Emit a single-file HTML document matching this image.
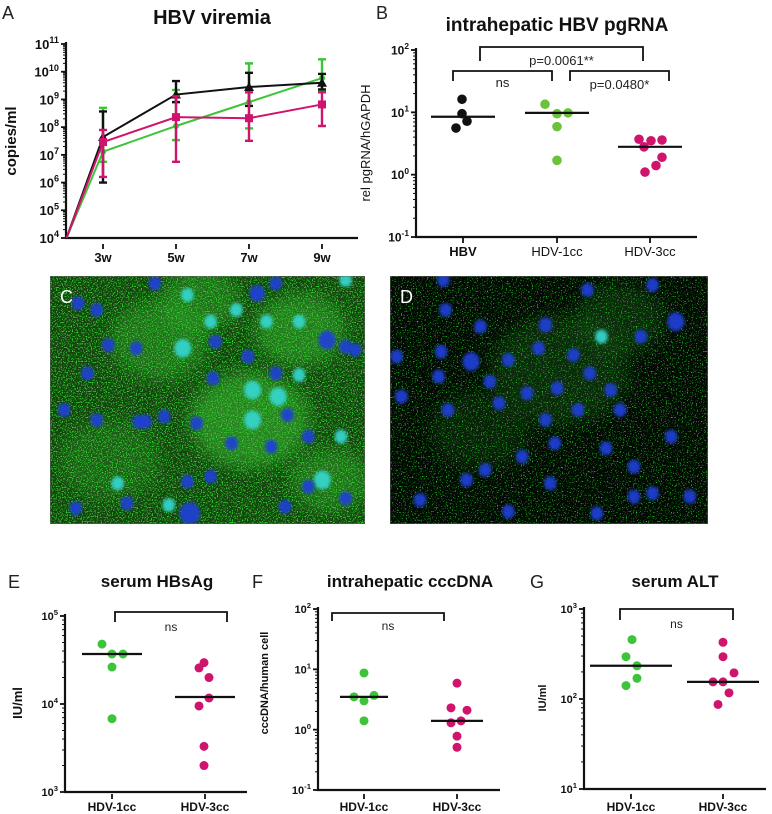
<!DOCTYPE html>
<html><head><meta charset="utf-8"><style>
html,body{margin:0;padding:0;background:#fff;}
svg{display:block;font-family:"Liberation Sans",Arial,sans-serif;}
</style></head><body>
<svg id="fig" width="772" height="814" viewBox="0 0 772 814" xmlns="http://www.w3.org/2000/svg">
<defs>
<filter id="spkC" x="0" y="0" width="100%" height="100%" color-interpolation-filters="sRGB"><feTurbulence type="fractalNoise" baseFrequency="0.8" numOctaves="1" seed="4"/><feColorMatrix type="matrix" values="0 0 0 0 0.2  0 0 0 0 0.85  0 0 0 0 0.2  0 7 0 0 -3.7"/></filter>
<filter id="spkD" x="0" y="0" width="100%" height="100%" color-interpolation-filters="sRGB"><feTurbulence type="fractalNoise" baseFrequency="0.8" numOctaves="1" seed="7"/><feColorMatrix type="matrix" values="0 0 0 0 0.15  0 0 0 0 0.8  0 0 0 0 0.15  0 9 0 0 -5.4"/></filter>
<filter id="blr" color-interpolation-filters="sRGB"><feGaussianBlur stdDeviation="1.6"/></filter>
<filter id="glow" color-interpolation-filters="sRGB"><feGaussianBlur stdDeviation="8"/></filter>
<clipPath id="clipC"><rect x="50" y="276" width="315" height="248"/></clipPath>
<clipPath id="clipD"><rect x="390" y="276" width="318" height="248"/></clipPath>
</defs>
</svg>
<script>
// ---------- Panel A data ----------
const aWeeks=[2,3,5,7,9];
const aTickWeeks=[3,5,7,9];
const aTickLabels=["3w","5w","7w","9w"];
const aBlack=[1e4,4.4e7,1.5e9,2.8e9,4.0e9];
const aBlackHi=[null,3.7e8,4.6e9,9.1e9,8.3e9];
const aBlackLo=[null,1e6,8e8,5.8e8,2.3e9];
const aGreen=[1e4,1.3e7,1.1e8,8e8,5.9e9];
const aGreenHi=[null,5e8,2.2e9,2e10,2.8e10];
const aGreenLo=[null,5.6e6,3.4e7,9e7,2e9];
const aMag=[1e4,2.9e7,2.3e8,2.1e8,6.6e8];
const aMagHi=[null,7.9e7,1.3e9,1.8e9,1.8e9];
const aMagLo=[null,1.6e6,5.6e6,3.2e7,1.1e8];
// ---------- Panel B data ----------
const bCats=["HBV","HDV-1cc","HDV-3cc"];
const bHBV=[16.2,9.5,7.2,5.6];
const bHDV1=[13.5,9.5,9.8,5.9,1.7];
const bHDV3=[3.7,3.5,3.6,2.8,1.9,1.4,1.1];
const bMedians=[8.5,9.8,2.8];
// ---------- Panel E data ----------
const eCats=["HDV-1cc","HDV-3cc"];
const eHDV1=[47900,37000,37000,26300,6800];
const eHDV3=[29500,25700,20000,11700,9500,3300,2000];
const eMedians=[37000,12000];
// ---------- Panel F data ----------
const fCats=["HDV-1cc","HDV-3cc"];
const fHDV1=[8.7,3.5,3.7,3.0,1.4];
const fHDV3=[5.9,2.3,2.1,1.3,1.4,0.78,0.51];
const fMedians=[3.5,1.4];
// ---------- Panel G data ----------
const gCats=["HDV-1cc","HDV-3cc"];
const gHDV1=[457,295,234,170,141];
const gHDV3=[427,295,195,155,155,117,87];
const gMedians=[234,155];

const NS="http://www.w3.org/2000/svg";
const svg=document.getElementById('fig');
const GREEN="#3ec43a", MAG="#d0146e";
function mk(tag,attrs,parent){const e=document.createElementNS(NS,tag);for(const k in attrs)e.setAttribute(k,attrs[k]);(parent||svg).appendChild(e);return e;}
function txt(x,y,s,attrs,parent){const e=mk('text',Object.assign({x:x,y:y},attrs),parent);e.textContent=s;return e;}
function logScale(vTop,yTop,vBot,yBot){const a=Math.log10(vTop),b=Math.log10(vBot);return v=>yTop+(a-Math.log10(v))/(a-b)*(yBot-yTop);}
function powLabel(x,y,exp,size,bold,parent){
  const t=mk('text',{x:x,y:y,'text-anchor':'end','font-size':size,'font-weight':bold?'bold':'normal',fill:'#111'},parent);
  
  
  const s1=document.createElementNS(NS,'tspan');s1.textContent='10';t.appendChild(s1);
  const s2=document.createElementNS(NS,'tspan');s2.setAttribute('dy',-size*0.45);s2.setAttribute('font-size',size*0.7);s2.textContent=String(exp);t.appendChild(s2);
}
function logAxis(g,ax,yTop,yBot,eTop,eBot,xEnd,size,bold){
  const l=mk('line',{x1:ax,y1:yTop-2,x2:ax,y2:yBot,stroke:'#111','stroke-width':2.2},g);
  
  
  const l2=mk('line',{x1:ax-1,y1:yBot,x2:xEnd,y2:yBot,stroke:'#111','stroke-width':2.2},g);
  
  
  const dec=(yBot-yTop)/(eTop-eBot);
  for(let e=eBot;e<=eTop;e++){
    const y=yBot-(e-eBot)*dec;
    const tk=mk('line',{x1:ax-5,y1:y,x2:ax,y2:y,stroke:'#111','stroke-width':1.8},g);
    
    
    powLabel(ax-7,y+size*0.38,e,size,bold,g);
    if(e<eTop){for(let m=2;m<10;m++){const ym=y-Math.log10(m)*dec;
      const mt=mk('line',{x1:ax-3,y1:ym,x2:ax,y2:ym,stroke:'#111','stroke-width':1},g);
      
      }}
  }
}
function bracket(g,x1,x2,y,leg,label,ty,size){
  const p=mk('path',{d:`M${x1},${y+leg}V${y}H${x2}V${y+leg}`,fill:'none',stroke:'#111','stroke-width':1.8},g);
  
  
  const t=txt((x1+x2)/2,ty,label,{'text-anchor':'middle','font-size':size,fill:'#222'},g);
  
  
}
function dots(g,cx,vals,offs,ys,color,r){
  vals.forEach((v,i)=>{const c=mk('circle',{cx:cx+offs[i],cy:ys(v),r:r,fill:color},g);
    
    });
}
function median(g,cx,half,v,ys){
  const l=mk('line',{x1:cx-half,y1:ys(v),x2:cx+half,y2:ys(v),stroke:'#111','stroke-width':2.2},g);
  
  
}
function panelLetter(x,y,s,fill){const t=txt(x,y,s,{'font-size':18,fill:fill||'#222'});
  
  }
function title(x,y,s,size,g){const t=txt(x,y,s,{'text-anchor':'middle','font-size':size,'font-weight':'bold',fill:'#111'},g);
  
  }
function ylabel(x,y,s,size,bold,g){const t=txt(x,y,s,{'text-anchor':'middle','font-size':size,'font-weight':bold?'bold':'normal',fill:'#111',transform:`rotate(-90 ${x} ${y})`},g);
  
  }
function xlabels(g,xs,labs,y,size,boldArr){labs.forEach((s,i)=>{const t=txt(xs[i],y,s,{'text-anchor':'middle','font-size':size,'font-weight':boldArr[i]?'bold':'normal',fill:'#111'},g);
  
  
  const tk=mk('line',{x1:xs[i],y1:y-size-5,x2:xs[i],y2:y-size,stroke:'#111','stroke-width':1.8},g);
  
  });}

// ===== Panel A =====
const gA=mk('g',{});


panelLetter(2,19,'A');
title(212,24,'HBV viremia',20,gA);
const yA=logScale(1e11,44,1e4,238);
const xA=w=>103+(w-3)*36.5;
logAxis(gA,66,44,238,11,4,358,13,true);
ylabel(16,141,'copies/ml',15,true,gA);
xlabels(gA,aTickWeeks.map(xA),aTickLabels,262,13,[1,1,1,1]);
function series(vals,hi,lo,color,name,marker){
  const sg=mk('g',{},gA);
  
  
  vals.forEach((v,i)=>{if(hi[i]==null)return;const x=xA(aWeeks[i]);
    const e=mk('path',{d:`M${x},${yA(hi[i])}V${yA(lo[i])}M${x-4},${yA(hi[i])}H${x+4}M${x-4},${yA(lo[i])}H${x+4}`,stroke:color,'stroke-width':2.4,fill:'none'},sg);
    
    });
  const pl=mk('polyline',{points:vals.map((v,i)=>xA(aWeeks[i])+','+yA(v)).join(' '),fill:'none',stroke:color,'stroke-width':2},sg);
  
  
  vals.forEach((v,i)=>{if(i==0)return;const x=xA(aWeeks[i]),y=yA(v);let m;
    if(marker=='sq')m=mk('rect',{x:x-4,y:y-4,width:8,height:8,fill:color},sg);
    else if(marker=='tri')m=mk('path',{d:`M${x},${y-5}L${x+5},${y+4}L${x-5},${y+4}Z`,fill:color},sg);
    else m=mk('circle',{cx:x,cy:y,r:3,fill:color},sg);
    
    });
}
series(aGreen,aGreenHi,aGreenLo,GREEN,'series-hdv-1cc','dot');
series(aBlack,aBlackHi,aBlackLo,'#111','series-hbv','tri');
series(aMag,aMagHi,aMagLo,MAG,'series-hdv-3cc','sq');

// ===== Panel B =====
const gB=mk('g',{});


panelLetter(376,19,'B');
title(557,31,'intrahepatic HBV pgRNA',19,gB);
const yB=logScale(1e2,50,1e-1,237);
const xB=[463,557,650];
logAxis(gB,416,50,237,2,-1,697,12,true);
ylabel(370,143,'rel pgRNA/hGAPDH',13,false,gB);
xlabels(gB,xB,bCats,256,13,[1,0,0]);
dots(gB,xB[0],bHBV,[-1,-1,4,-7],yB,'#111',4.8);
dots(gB,xB[1],bHDV1,[-12,0,11,0,0],yB,'#6cc23a',4.8);
dots(gB,xB[2],bHDV3,[-11,1,12,-6,12,6,-5],yB,MAG,4.8);
median(gB,xB[0],32,bMedians[0],yB);
median(gB,xB[1],32,bMedians[1],yB);
median(gB,xB[2],32,bMedians[2],yB);
bracket(gB,480,643,47,14,'p=0.0061**',65,13);
bracket(gB,453,552,71,10,'ns',87,13);
bracket(gB,570,669,71,10,'p=0.0480*',89,13);

// ===== Micrographs =====
function micro(x,y,w,h,clip,bg,spk,bright,nuclei,letter,name){
  const g=mk('g',{'clip-path':`url(#${clip})`});
  
  
  const r=mk('rect',{x:x,y:y,width:w,height:h,fill:bg},g);
  
  
  bright.forEach(b=>{const c=mk('ellipse',{cx:b[0],cy:b[1],rx:b[2],ry:b[2]*0.8,fill:b[3],opacity:0.5,filter:'url(#glow)'},g);
    
    });
  const s=mk('rect',{x:x,y:y,width:w,height:h,filter:`url(#${spk})`},g);
  
  
  nuclei.forEach(n=>{const px=n[0]/2.15+20,py=n[1]/3+260;const rr=(n[2]||7.5)*0.85;
    const c=mk('ellipse',{cx:px,cy:py,rx:rr,ry:rr*1.1,fill:n[3]?'#36d6d0':'#1f3fd8',opacity:0.92,filter:'url(#blr)'},g);
    
    });
  const bd=mk('rect',{x:x,y:y,width:w,height:h,fill:'none',stroke:'#666','stroke-width':1},g);
  
  
  const t=txt(x+10,y+27,letter,{'font-size':18,fill:'#fff'},g);
  
  
}
micro(50,276,315,248,'clipC','#15430f','spkC',
 [[250,420,60,'#3fbf35'],[160,340,50,'#2f9a28'],[300,330,45,'#37b030'],[110,460,50,'#267a20'],[330,480,40,'#2f9a28'],[200,300,40,'#2f9a28']],
 [[125,130],[165,150],[190,255],[250,265],[145,340],[95,450],[165,480],[255,485],[310,470],[380,490],[420,245],[490,290],[510,100,9],[550,70],[465,150,0,1],[410,185,0,1],[360,105,0,1],[350,265,10,1],[530,185,0,1],[600,185,0,1],[500,390,10,1],[555,410,10,1],[500,480,10,1],[415,355],[550,340],[600,345,0,1],[575,465],[455,550],[540,560],[620,530],[690,530,0,1],[700,260],[720,270],[660,240,10],[210,670,0,1],[360,665],[410,650],[650,660,10,1],[620,680],[700,715],[570,740],[320,735,0,1],[230,730],[120,745],[365,760,12],[290,70],[700,60,0,1],[270,485]],
 'C','micrograph-c-hdv-1cc');
micro(390,276,318,248,'clipD','#030a04','spkD',
 [[560,370,70,'#154a14'],[480,430,50,'#10380f'],[620,320,45,'#154a14']],
 [[910,60],[915,150],[990,200],[1130,195,8],[1220,90],[1360,75],[1410,185,10],[1335,230],[905,275],[810,290],[970,305,10],[1050,300],[1115,265],[1190,285],[1250,230,0,1],[1225,340],[1270,390],[1290,450],[1200,450],[1130,480],[1090,400],[1030,430],[1010,365],[900,350],[820,410],[920,450],[1155,385],[1150,550],[1260,565],[1320,620],[1400,530],[1440,710],[1360,700],[1320,710],[1140,670],[1050,755],[960,660],[860,720],[1240,760],[1080,590],[1000,630]],
 'D','micrograph-d-hdv-3cc');

// ===== Panel E =====
const gE=mk('g',{});


panelLetter(8,588,'E');
title(157,587,'serum HBsAg',17,gE);
const yE=logScale(1e5,616,1e3,792);
const xE=[112,205];
logAxis(gE,65,616,792,5,3,247,11,true);
ylabel(22,703,'IU/ml',13,true,gE);
xlabels(gE,xE,eCats,811,12,[1,1]);
dots(gE,xE[0],eHDV1,[-10,0,11,0,0],yE,GREEN,4.5);
dots(gE,xE[1],eHDV3,[-1,-6,4,4,-6,-1,-1],yE,MAG,4.5);
median(gE,xE[0],30,eMedians[0],yE);
median(gE,xE[1],30,eMedians[1],yE);
bracket(gE,115,227,612,10,'ns',631,12);

// ===== Panel F =====
const gF=mk('g',{});


panelLetter(252,588,'F');
title(410,587,'intrahepatic cccDNA',17,gF);
const yF=logScale(1e2,609,1e-1,790);
const xF=[364,457];
logAxis(gF,318,609,790,2,-1,500,11,true);
ylabel(268,683,'cccDNA/human cell',11,true,gF);
xlabels(gF,xF,fCats,811,12,[1,1]);
dots(gF,xF[0],fHDV1,[0,-10,10,0,0],yF,GREEN,4.5);
dots(gF,xF[1],fHDV3,[0,-6,10,-6,4,0,0],yF,MAG,4.5);
median(gF,xF[0],24,fMedians[0],yF);
median(gF,xF[1],26,fMedians[1],yF);
bracket(gF,332,444,613,8,'ns',630,12);

// ===== Panel G =====
const gG=mk('g',{});


panelLetter(530,588,'G');
title(675,587,'serum ALT',17,gG);
const yG=logScale(1e3,609,1e1,789);
const xG=[631,723];
logAxis(gG,584,609,789,3,1,766,11,true);
ylabel(546,698,'IU/ml',11,true,gG);
xlabels(gG,xG,gCats,811,12,[1,1]);
dots(gG,xG[0],gHDV1,[1,-5,6,6,-5],yG,GREEN,4.5);
dots(gG,xG[1],gHDV3,[0,0,11,-10,0,6,-5],yG,MAG,4.5);
median(gG,xG[0],41,gMedians[0],yG);
median(gG,xG[1],36,gMedians[1],yG);
bracket(gG,620,733,609,11,'ns',628,12);
</script>
</body></html>
